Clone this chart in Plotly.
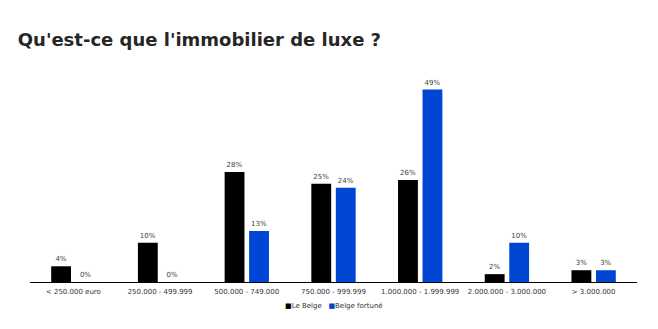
import plotly.graph_objects as go

categories = ["< 250.000 euro", "250.000 - 499.999", "500.000 - 749.000",
              "750.000 - 999.999", "1.000.000 - 1.999.999",
              "2.000.000 - 3.000.000", "> 3.000.000"]
le_belge = [4, 10, 28, 25, 26, 2, 3]
belge_fortune = [0, 0, 13, 24, 49, 10, 3]

BLACK = "#000000"
BLUE = "#0046D5"
FONT = "DejaVu Sans"

fig = go.Figure()
for name, vals, col in [("Le Belge", le_belge, BLACK),
                        ("Belge fortuné", belge_fortune, BLUE)]:
    fig.add_trace(go.Bar(
        x=categories, y=vals, name=name, marker_color=col,
        marker_line_width=0,
        text=[f"{v}%" for v in vals], textposition="outside",
        textfont=dict(size=7, color="#404040", family=FONT),
        cliponaxis=False, showlegend=False,
    ))

fig.update_layout(
    width=658, height=329,
    margin=dict(l=30, r=21, t=66, b=47),
    paper_bgcolor="white", plot_bgcolor="white",
    barmode="group", bargap=0.435, bargroupgap=0.19,
    font=dict(family=FONT, color="#333333"),
    title=dict(text="<b>Qu'est-ce que l'immobilier de luxe ?</b>",
               x=0.027, xanchor="left", y=0.878, yanchor="middle",
               font=dict(size=18, color="#262626", family=FONT)),
    xaxis=dict(showline=True, linecolor="#000000", linewidth=1,
               ticks="", ticklabelstandoff=3,
               tickfont=dict(size=7, color="#333333"),
               showgrid=False, range=[-0.5, 6.5]),
    yaxis=dict(range=[0, 55], visible=False, showgrid=False),
    annotations=[dict(
        text=(f"<span style='color:{BLACK}'>■</span>Le Belge   "
              f"<span style='color:{BLUE}'>■</span>Belge fortuné"),
        xref="paper", yref="paper", x=0.5, y=-0.111,
        xanchor="center", yanchor="middle", showarrow=False,
        font=dict(size=7, color="#333333", family=FONT))],
)

fig.write_html("out.html")
